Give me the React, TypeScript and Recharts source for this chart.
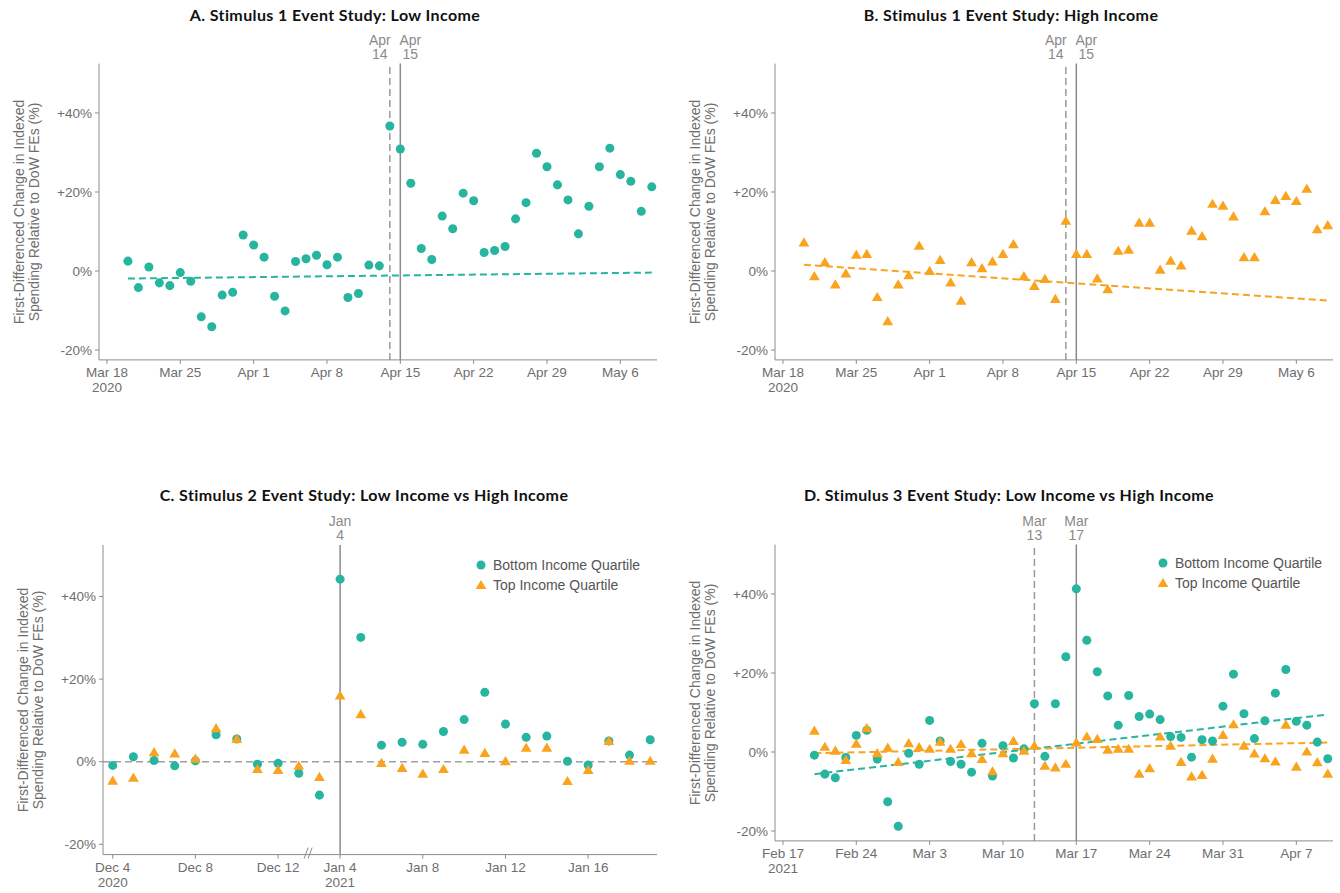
import React from "react";
import { ScatterChart, Scatter, XAxis, YAxis, ReferenceLine, ReferenceDot } from "recharts";

const TEAL = "#27b5a0";
const ORANGE = "#f9a31f";
const AXIS = "#8c8c8c";
const TICK = "#6e6e6e";
const FONT = "'Liberation Sans', Arial, sans-serif";

// ---- Stimulus 1 (x = days since Mar 18 2020, first point Mar 20) ----
const s1Start = 2;
const s1Low = [
  2.5, -4.2, 1.0, -3.0, -3.7, -0.4, -2.6, -11.6, -14.1, -6.1, -5.4, 9.1,
  6.6, 3.5, -6.4, -10.1, 2.4, 3.1, 4.0, 1.6, 3.5, -6.7, -5.7, 1.5, 1.3, 36.7, 30.9, 22.2,
  5.7, 2.9, 13.9, 10.7, 19.7, 17.8, 4.7, 5.2, 6.2, 13.2, 17.3, 29.8, 26.4, 21.8,
  18.0, 9.4, 16.4, 26.4, 31.1, 24.4, 22.7, 15.1, 21.3,
];
const s1High = [
  7.2, -1.3, 2.2, -3.4, -0.6, 4.1, 4.3, -6.6, -12.7, -3.4, -1.1, 6.4,
  0.0, 2.8, -2.9, -7.5, 2.2, 0.7, 2.4, 4.3, 6.8, -1.3, -3.8, -2.0, -7.1, 12.7, 4.3, 4.3,
  -1.9, -4.6, 5.1, 5.4, 12.2, 12.2, 0.3, 2.6, 1.4, 10.2, 8.8, 17.0, 16.5, 13.8,
  3.5, 3.5, 15.1, 18.0, 19.0, 17.7, 20.8, 10.6, 11.6,
];
const s1LowFit = [-1.9, -0.4];
const s1HighFit = [1.6, -7.5];
const s1Ticks = [0, 7, 14, 21, 28, 35, 42, 49];
const s1TickLabels = ["Mar 18\n2020", "Mar 25", "Apr 1", "Apr 8", "Apr 15", "Apr 22", "Apr 29", "May 6"];

// ---- Stimulus 2 (x = position: Dec 4-14 2020, then Jan 4-19 2021) ----
const s2Low = [
  -0.9, 1.2, 0.3, -1.0, 0.2, 6.5, 5.5, -0.6, -0.4, -2.8, -8.1,
  44.2, 30.1, 4.0, 4.7, 4.2, 7.3, 10.2, 16.8, 9.1, 5.9, 6.2, 0.1, -0.8, 5.0, 1.6, 5.3,
];
const s2High = [
  -4.6, -3.9, 2.3, 2.0, 0.7, 8.1, 5.5, -1.8, -2.0, -1.0, -3.7,
  16.0, 11.5, -0.3, -1.5, -2.9, -1.8, 2.9, 2.1, 0.1, 3.4, 3.4, -4.7, -2.0, 5.0, 0.2, 0.2,
];
const s2Ticks = [0, 4, 8, 11, 15, 19, 23];
const s2TickLabels = ["Dec 4\n2020", "Dec 8", "Dec 12", "Jan 4\n2021", "Jan 8", "Jan 12", "Jan 16"];

// ---- Stimulus 3 (x = days since Feb 17 2021, first point Feb 20) ----
const s3Start = 3;
const s3Low = [
  -0.8, -5.6, -6.5, -1.4, 4.2, 5.5, -1.8, -12.6, -18.8,
  -0.3, -3.1, 8.0, 2.8, -2.4, -3.1, -5.1, 2.2, -6.1, 1.6, -1.5, 0.8, 12.2, -1.1, 12.2, 24.1,
  41.3, 28.3, 20.3, 14.2, 6.8, 14.3, 9.0, 9.6, 8.2, 3.9, 3.7, -1.3, 3.1, 2.8, 11.6,
  19.7, 9.7, 3.4, 7.9, 14.9, 20.9, 7.8, 6.8, 2.5, -1.7,
];
const s3High = [
  5.4, 1.3, 0.3, -2.0, 2.1, 6.0, -0.3, 1.1, -2.5,
  2.2, 1.2, 0.8, 2.6, 0.8, 2.0, -0.3, -1.8, -4.9, -0.3, 2.8, 0.3, 1.6, -3.5, -3.9, -3.0,
  2.4, 3.9, 3.3, 0.6, 0.8, 0.8, -5.5, -4.1, 3.9, 1.6, -2.5, -6.2, -5.8, -1.7, 4.3,
  7.0, 1.6, -0.4, -1.6, -2.4, 6.9, -3.7, 0.1, -2.6, -5.5,
];
const s3LowFit = [-5.6, 9.5];
const s3HighFit = [-0.3, 2.4];
const s3Ticks = [0, 7, 14, 21, 28, 35, 42, 49];
const s3TickLabels = ["Feb 17\n2021", "Feb 24", "Mar 3", "Mar 10", "Mar 17", "Mar 24", "Mar 31", "Apr 7"];

const yTicks = [-20, 0, 20, 40];
const yDomain = [-22.5, 52.5];
const yTitle = ["First-Differenced Change in Indexed", "Spending Relative to DoW FEs (%)"];

const toPts = (vals: number[], start: number) => vals.map((y, i) => ({ x: start + i, y }));
const fmtPct = (v: number) => (v > 0 ? `+${v}%` : `${v}%`);

const Tri = (p: any) => {
  const { cx, cy } = p;
  return (
    <polygon
      points={`${cx},${cy - 5.2} ${cx - 5.4},${cy + 4} ${cx + 5.4},${cy + 4}`}
      fill={ORANGE}
    />
  );
};

const XTick = (p: any, ticks: number[], labels: string[]) => {
  const idx = ticks.indexOf(p.payload.value);
  const lines = idx >= 0 ? labels[idx].split("\n") : [];
  return (
    <text x={p.x} y={p.y} textAnchor="middle" fill={TICK} fontSize={13.5} fontFamily={FONT}>
      {lines.map((l, i) => (
        <tspan key={i} x={p.x} dy={i === 0 ? 11 : 15}>
          {l}
        </tspan>
      ))}
    </text>
  );
};

const RefLabel = (lines: string[], dx: number) => (p: any) => {
  const vb = p.viewBox;
  const x = vb.x + dx;
  return (
    <text x={x} y={vb.y - 19} textAnchor="middle" fill="#8a8a8a" fontSize={14} fontFamily={FONT}>
      <tspan x={x}>{lines[0]}</tspan>
      <tspan x={x} dy={14.5}>
        {lines[1]}
      </tspan>
    </text>
  );
};

const BreakMark = (p: any) => {
  const { cx, cy } = p;
  return (
    <g stroke={AXIS} strokeWidth={1}>
      <line x1={cx - 5} y1={cy + 4} x2={cx - 1} y2={cy - 7} />
      <line x1={cx - 1} y1={cy + 4} x2={cx + 3} y2={cy - 7} />
    </g>
  );
};

type VLine = { x: number; dashed: boolean; label: string[]; dx?: number };

type PanelProps = {
  title: string;
  titleX: number;
  titleY: number;
  left: number;
  top: number;
  width: number;
  height: number;
  plot: { x0: number; x1: number; y0: number; y1: number };
  xDomain: number[];
  ticks: number[];
  tickLabels: string[];
  low?: { x: number; y: number }[];
  high?: { x: number; y: number }[];
  lowFit?: { x: number; y: number }[];
  highFit?: { x: number; y: number }[];
  vlines: VLine[];
  zeroLine?: boolean;
  breakAt?: number;
  legend?: { x: number; y: number };
};

function Panel(props: PanelProps) {
  const { left, top, width, height, plot } = props;
  const yAxisW = 50;
  const xAxisH = 36;
  const margin = {
    top: plot.y0 - top,
    left: plot.x0 - left - yAxisW,
    right: left + width - plot.x1,
    bottom: top + height - plot.y1 - xAxisH,
  };
  const cy = (plot.y0 + plot.y1) / 2;
  const cx = plot.x0 - 71.5;
  return (
    <>
      <div
        style={{
          position: "absolute",
          left: props.titleX - 300,
          top: props.titleY - 10,
          width: 600,
          textAlign: "center",
          fontFamily: "Lato, sans-serif",
          fontWeight: 700,
          fontSize: 16,
          letterSpacing: 0.4,
          lineHeight: "20px",
          color: "#111",
        }}
      >
        {props.title}
      </div>
      <div
        style={{
          position: "absolute",
          left: cx - 200,
          top: cy - 16,
          width: 400,
          height: 32,
          transform: "rotate(-90deg)",
          textAlign: "center",
          fontFamily: FONT,
          fontSize: 14,
          lineHeight: "15px",
          color: TICK,
        }}
      >
        {yTitle[0]}
        <br />
        {yTitle[1]}
      </div>
      <div style={{ position: "absolute", left, top }}>
        <ScatterChart width={width} height={height} margin={margin}>
          <XAxis
            type="number"
            dataKey="x"
            domain={props.xDomain}
            allowDataOverflow
            ticks={props.ticks}
            interval={0}
            height={xAxisH}
            tickSize={4}
            tickMargin={2}
            axisLine={{ stroke: AXIS }}
            tickLine={{ stroke: AXIS }}
            tick={(p: any) => XTick(p, props.ticks, props.tickLabels)}
          />
          <YAxis
            type="number"
            dataKey="y"
            domain={yDomain}
            allowDataOverflow
            ticks={yTicks}
            interval={0}
            width={yAxisW}
            tickSize={4}
            tickMargin={3}
            axisLine={{ stroke: AXIS }}
            tickLine={{ stroke: AXIS }}
            tickFormatter={fmtPct}
            tick={{ fill: TICK, fontSize: 13.5, fontFamily: FONT }}
          />
          {props.zeroLine && (
            <ReferenceLine y={0} stroke="#a0a0a0" strokeWidth={1.6} strokeDasharray="7 4" />
          )}
          {props.vlines.map((v) => (
            <ReferenceLine
              key={v.x}
              x={v.x}
              stroke={v.dashed ? "#9a9a9a" : "#8a8a8a"}
              strokeWidth={1.5}
              strokeDasharray={v.dashed ? "7 4" : undefined}
              label={RefLabel(v.label, v.dx ?? 0)}
            />
          ))}
          {props.lowFit && (
            <ReferenceLine
              segment={props.lowFit}
              stroke={TEAL}
              strokeWidth={2}
              strokeDasharray="7 4"
            />
          )}
          {props.highFit && (
            <ReferenceLine
              segment={props.highFit}
              stroke={ORANGE}
              strokeWidth={2}
              strokeDasharray="7 4"
            />
          )}
          {props.breakAt !== undefined && (
            <ReferenceDot
              x={props.breakAt}
              y={yDomain[0]}
              ifOverflow="visible"
              shape={BreakMark}
            />
          )}
          {props.low && (
            <Scatter data={props.low} fill={TEAL} shape="circle" isAnimationActive={false} />
          )}
          {props.high && (
            <Scatter data={props.high} fill={ORANGE} shape={Tri} isAnimationActive={false} />
          )}
        </ScatterChart>
      </div>
      {props.legend && (
        <div
          style={{
            position: "absolute",
            left: props.legend.x - 8,
            top: props.legend.y - 10,
            fontFamily: FONT,
            fontSize: 14,
            color: "#555",
            lineHeight: "20px",
          }}
        >
          <div style={{ display: "flex", alignItems: "center" }}>
            <svg width={16} height={20}>
              <circle cx={8} cy={10} r={4.5} fill={TEAL} />
            </svg>
            <span style={{ marginLeft: 4 }}>Bottom Income Quartile</span>
          </div>
          <div style={{ display: "flex", alignItems: "center" }}>
            <svg width={16} height={20}>
              <polygon points="8,5 2.6,14 13.4,14" fill={ORANGE} />
            </svg>
            <span style={{ marginLeft: 4 }}>Top Income Quartile</span>
          </div>
        </div>
      )}
    </>
  );
}

export default function App() {
  const s1LowPts = toPts(s1Low, s1Start);
  const s1HighPts = toPts(s1High, s1Start);
  const s1Last = s1Start + s1Low.length - 1;
  const s2LowPts = toPts(s2Low, 0);
  const s2HighPts = toPts(s2High, 0);
  const s3LowPts = toPts(s3Low, s3Start);
  const s3HighPts = toPts(s3High, s3Start);
  const s3Last = s3Start + s3Low.length - 1;
  const s1X = [-0.76, 52.5];
  const s1Refs: VLine[] = [
    { x: 27, dashed: true, label: ["Apr", "14"], dx: -10 },
    { x: 28, dashed: false, label: ["Apr", "15"], dx: 10 },
  ];

  return (
    <div
      style={{
        position: "absolute",
        left: 0,
        top: 0,
        width: 1340,
        height: 893,
        overflow: "hidden",
        background: "#fff",
      }}
    >
      <Panel
        title="A. Stimulus 1 Event Study: Low Income"
        titleX={335}
        titleY={15}
        left={0}
        top={0}
        width={668}
        height={410}
        plot={{ x0: 99, x1: 657, y0: 63.6, y1: 359.9 }}
        xDomain={s1X}
        ticks={s1Ticks}
        tickLabels={s1TickLabels}
        low={s1LowPts}
        lowFit={[
          { x: s1Start, y: s1LowFit[0] },
          { x: s1Last, y: s1LowFit[1] },
        ]}
        vlines={s1Refs}
      />
      <Panel
        title="B. Stimulus 1 Event Study: High Income"
        titleX={1011}
        titleY={15}
        left={676}
        top={0}
        width={664}
        height={410}
        plot={{ x0: 775, x1: 1333, y0: 63.6, y1: 359.9 }}
        xDomain={s1X}
        ticks={s1Ticks}
        tickLabels={s1TickLabels}
        high={s1HighPts}
        highFit={[
          { x: s1Start, y: s1HighFit[0] },
          { x: s1Last, y: s1HighFit[1] },
        ]}
        vlines={s1Refs}
      />
      <Panel
        title="C. Stimulus 2 Event Study: Low Income vs High Income"
        titleX={364}
        titleY={495}
        left={0}
        top={470}
        width={668}
        height={423}
        plot={{ x0: 103, x1: 657, y0: 544.9, y1: 854.6 }}
        xDomain={[-0.47, 26.33]}
        ticks={s2Ticks}
        tickLabels={s2TickLabels}
        low={s2LowPts}
        high={s2HighPts}
        vlines={[{ x: 11, dashed: false, label: ["Jan", "4"] }]}
        zeroLine
        breakAt={9.5}
        legend={{ x: 481, y: 565 }}
      />
      <Panel
        title="D. Stimulus 3 Event Study: Low Income vs High Income"
        titleX={1009}
        titleY={495}
        left={676}
        top={470}
        width={664}
        height={423}
        plot={{ x0: 775, x1: 1333, y0: 544.6, y1: 840.9 }}
        xDomain={s1X}
        ticks={s3Ticks}
        tickLabels={s3TickLabels}
        low={s3LowPts}
        high={s3HighPts}
        lowFit={[
          { x: s3Start, y: s3LowFit[0] },
          { x: s3Last, y: s3LowFit[1] },
        ]}
        highFit={[
          { x: s3Start, y: s3HighFit[0] },
          { x: s3Last, y: s3HighFit[1] },
        ]}
        vlines={[
          { x: 24, dashed: true, label: ["Mar", "13"] },
          { x: 28, dashed: false, label: ["Mar", "17"] },
        ]}
        legend={{ x: 1163, y: 563 }}
      />
    </div>
  );
}
